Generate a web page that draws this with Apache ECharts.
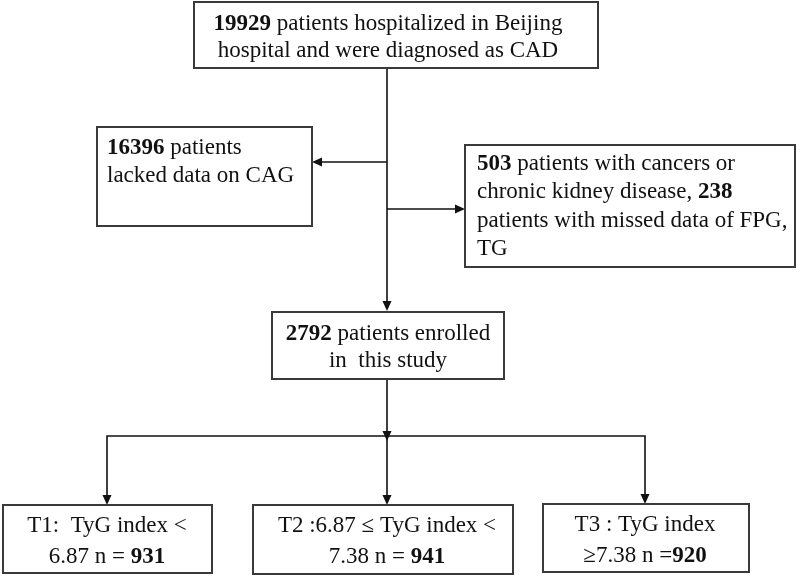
<!DOCTYPE html>
<html>
<head>
<meta charset="utf-8">
<script src="https://cdn.jsdelivr.net/npm/echarts@6/dist/echarts.min.js"></script>
<style>
  html, body { margin: 0; padding: 0; background: #fff; }
  #chart { width: 797px; height: 576px; }
</style>
</head>
<body>
<div id="chart"></div>
<script>
// counts shown in the flow chart
const screenedN = 19929;
const noCagN = 16396;
const cancerCkdN = 503;
const missingLabN = 238;
const enrolledN = 2792;
const groupNames = ['T1', 'T2', 'T3'];
const tygCutoffs = [6.87, 7.38];
const groupN = [931, 941, 920];

// text of each box, {b|..} = bold number
const topLines = ['{b|' + screenedN + '} patients hospitalized in Beijing', 'hospital and were diagnosed as CAD'];
const leftLines = ['{b|' + noCagN + '} patients', 'lacked data on CAG'];
const rightLines = ['{b|' + cancerCkdN + '} patients with cancers or', 'chronic kidney disease, {b|' + missingLabN + '}',
  'patients with missed data of FPG,', 'TG'];
const enrolledLines = ['{b|' + enrolledN + '} patients enrolled', 'in  this study'];
const groupLines = [
  [groupNames[0] + ':  TyG index <', tygCutoffs[0] + ' n = {b|' + groupN[0] + '}'],
  [groupNames[1] + ' :' + tygCutoffs[0] + ' ≤ TyG index <', tygCutoffs[1] + ' n = {b|' + groupN[1] + '}'],
  [groupNames[2] + ' : TyG index', '≥' + tygCutoffs[1] + ' n ={b|' + groupN[2] + '}']
];

const FONT = '"Liberation Serif", "Times New Roman", serif';
const els = [];

function box(x, y, w, h) {
  els.push({
    type: 'rect', shape: { x: x, y: y, width: w, height: h },
    style: { fill: '#fff', stroke: '#3a3a3a', lineWidth: 2 }
  });
}
function line(pts) {
  els.push({ type: 'polyline', shape: { points: pts }, style: { stroke: '#111', lineWidth: 1.6, fill: null } });
}
// arrow head with tip at (x, y)
function head(x, y, dir) {
  let p;
  if (dir === 'down') p = [[x - 4.5, y - 10], [x + 4.5, y - 10], [x, y]];
  else if (dir === 'left') p = [[x + 10, y - 4.5], [x + 10, y + 4.5], [x, y]];
  else p = [[x - 10, y - 4.5], [x - 10, y + 4.5], [x, y]];
  els.push({ type: 'polygon', shape: { points: p }, style: { fill: '#111' } });
}
function txt(lines, x, y0, gap, align) {
  lines.forEach(function (s, i) {
    els.push({
      type: 'text', x: x, y: y0 + i * gap,
      style: {
        text: s, fontSize: 23, fontFamily: FONT, fill: '#111',
        textAlign: align, textVerticalAlign: 'middle',
        rich: { b: { fontWeight: 'bold', fontSize: 23, fontFamily: FONT, fill: '#111' } }
      }
    });
  });
}

// connectors
line([[387, 68], [387, 303]]);
head(387, 311, 'down');
line([[387, 162], [320, 162]]);
head(312, 162, 'left');
line([[387, 209], [456, 209]]);
head(465, 209, 'right');
line([[387, 379], [387, 436]]);
head(387, 441, 'down');
line([[107, 497], [107, 436], [645, 436], [645, 496]]);
line([[387, 436], [387, 497]]);
head(107, 505, 'down');
head(387, 505, 'down');
head(645, 504, 'down');

// boxes
box(194, 2, 404, 66);
box(97, 127, 215, 99);
box(465, 145, 330, 122);
box(272, 312, 232, 67);
box(3, 505, 209, 68);
box(253, 505, 260, 69);
box(543, 504, 206, 68);

txt(topLines, 388, 24, 27, 'center');
txt(leftLines, 107, 148, 28, 'left');
txt(rightLines, 477, 164, 28.3, 'left');
txt(enrolledLines, 388, 334, 27, 'center');
txt(groupLines[0], 107, 526, 31, 'center');
txt(groupLines[1], 387, 526, 31, 'center');
txt(groupLines[2], 645, 525, 31, 'center');

let myChart = echarts.init(document.getElementById('chart'));
myChart.setOption({
  backgroundColor: '#fff',
  graphic: { elements: els }
});
window.addEventListener('resize', function () { myChart.resize(); });
</script>
</body>
</html>
